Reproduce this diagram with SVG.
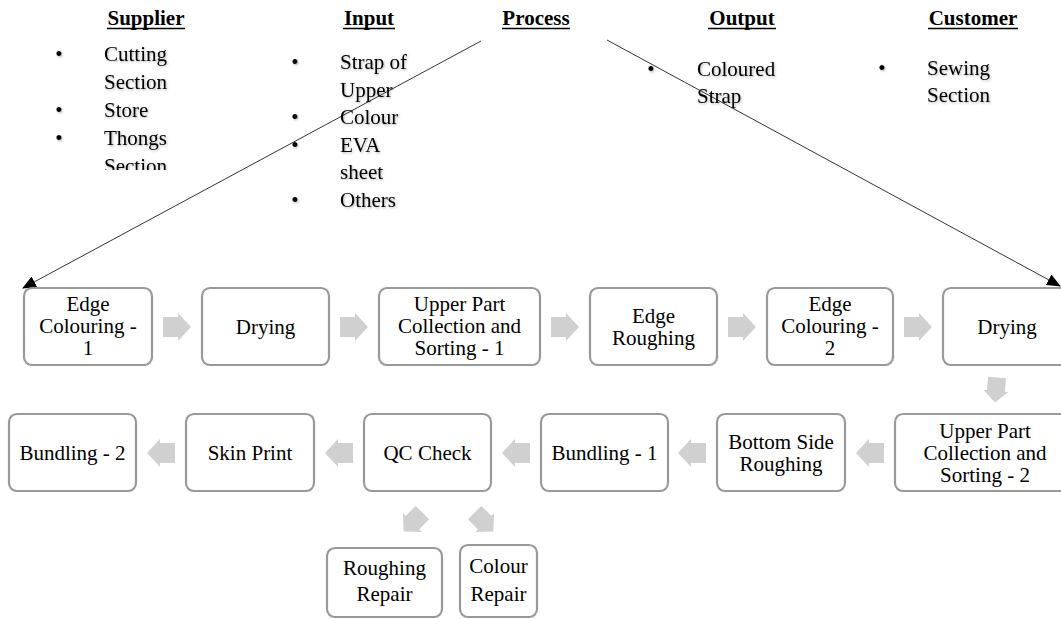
<svg xmlns="http://www.w3.org/2000/svg" width="1061" height="619" viewBox="0 0 1061 619">
<style>
.hd{font-family:"Liberation Serif","Times New Roman",serif;font-size:21px;font-weight:bold;text-anchor:middle;fill:#000}
.ls{font-family:"Liberation Serif","Times New Roman",serif;font-size:21px;fill:#000}
.bu{font-family:"Liberation Serif","Times New Roman",serif;font-size:21px;fill:#000;text-anchor:middle}
.box{fill:#fff;stroke:#999;stroke-width:2.2}
.bt{font-family:"Liberation Serif","Times New Roman",serif;font-size:21px;fill:#000;text-anchor:middle}
.ba{fill:#d0d0d0}
.dl{stroke:#000;stroke-width:0.8;fill:none}
.ul{stroke:#000;stroke-width:1.6}
</style>
<defs>
<path id="blk" d="M-14,-10 H1 V-14 L14,0 L1,14 V10 H-14 Z"/>
<marker id="ah" markerUnits="userSpaceOnUse" markerWidth="14" markerHeight="12" refX="13" refY="6" orient="auto">
<path d="M0,0 L14,6 L0,12 Z" fill="#000"/>
</marker>
<filter id="sh" x="-10%" y="-10%" width="130%" height="140%">
<feDropShadow dx="1" dy="1.2" stdDeviation="0.8" flood-color="#000" flood-opacity="0.3"/>
</filter>
<clipPath id="supclip"><rect x="0" y="0" width="300" height="170"/></clipPath>
</defs>

<g id="header-supplier">
<text class="hd" x="146" y="25">Supplier</text>
<line class="ul" x1="107" y1="28.5" x2="185" y2="28.5"/>
<g clip-path="url(#supclip)" filter="url(#sh)">
<text class="bu" x="59" y="61">•</text>
<text class="ls" x="104" y="61">Cutting</text>
<text class="ls" x="104" y="89">Section</text>
<text class="bu" x="59" y="117">•</text>
<text class="ls" x="104" y="117">Store</text>
<text class="bu" x="59" y="145">•</text>
<text class="ls" x="104" y="145">Thongs</text>
<text class="ls" x="104" y="173">Section</text>
</g>
</g>

<g id="header-input">
<text class="hd" x="369" y="25">Input</text>
<line class="ul" x1="343" y1="28.5" x2="395" y2="28.5"/>
<g filter="url(#sh)">
<text class="bu" x="295" y="69">•</text>
<text class="ls" x="340" y="69">Strap of</text>
<text class="ls" x="340" y="97">Upper</text>
<text class="bu" x="295" y="124">•</text>
<text class="ls" x="340" y="124">Colour</text>
<text class="bu" x="295" y="152">•</text>
<text class="ls" x="340" y="152">EVA</text>
<text class="ls" x="340" y="179">sheet</text>
<text class="bu" x="295" y="207">•</text>
<text class="ls" x="340" y="207">Others</text>
</g>
</g>

<g id="header-process">
<text class="hd" x="536" y="25">Process</text>
<line class="ul" x1="502" y1="28.5" x2="570" y2="28.5"/>
</g>

<g id="header-output">
<text class="hd" x="742" y="25">Output</text>
<line class="ul" x1="708" y1="28.5" x2="776" y2="28.5"/>
<g filter="url(#sh)">
<text class="bu" x="651" y="76">•</text>
<text class="ls" x="697" y="76">Coloured</text>
<text class="ls" x="697" y="103">Strap</text>
</g>
</g>

<g id="header-customer">
<text class="hd" x="973" y="25">Customer</text>
<line class="ul" x1="928" y1="28.5" x2="1018" y2="28.5"/>
<g filter="url(#sh)">
<text class="bu" x="882" y="75">•</text>
<text class="ls" x="927" y="75">Sewing</text>
<text class="ls" x="927" y="102">Section</text>
</g>
</g>

<g id="connectors">
<line class="dl" x1="481" y1="41" x2="23" y2="288" marker-end="url(#ah)"/>
<line class="dl" x1="607" y1="40" x2="1060" y2="286" marker-end="url(#ah)"/>
<use href="#blk" class="ba" transform="translate(177,327)"/>
<use href="#blk" class="ba" transform="translate(354,327)"/>
<use href="#blk" class="ba" transform="translate(565,327)"/>
<use href="#blk" class="ba" transform="translate(742,327)"/>
<use href="#blk" class="ba" transform="translate(918,327)"/>
<use href="#blk" class="ba" transform="translate(996,390) rotate(95) scale(0.9)"/>
<use href="#blk" class="ba" transform="translate(870,453) rotate(180)"/>
<use href="#blk" class="ba" transform="translate(692,453) rotate(180)"/>
<use href="#blk" class="ba" transform="translate(516,453) rotate(180)"/>
<use href="#blk" class="ba" transform="translate(339,453) rotate(180)"/>
<use href="#blk" class="ba" transform="translate(161,453) rotate(180)"/>
<use href="#blk" class="ba" transform="translate(413,522) rotate(135) scale(0.95)"/>
<use href="#blk" class="ba" transform="translate(484,522) rotate(45) scale(0.95)"/>
</g>

<g id="n1">
<rect class="box" x="24" y="288" width="128" height="77" rx="8"/>
<text class="bt" x="88" y="311">Edge</text>
<text class="bt" x="88" y="333">Colouring -</text>
<text class="bt" x="88" y="355">1</text>
</g>
<g id="n2">
<rect class="box" x="202" y="288" width="127" height="77" rx="8"/>
<text class="bt" x="265.5" y="333.5">Drying</text>
</g>
<g id="n3">
<rect class="box" x="379" y="288" width="161" height="77" rx="8"/>
<text class="bt" x="459.5" y="311">Upper Part</text>
<text class="bt" x="459.5" y="333">Collection and</text>
<text class="bt" x="459.5" y="355">Sorting - 1</text>
</g>
<g id="n4">
<rect class="box" x="590" y="288" width="127" height="77" rx="8"/>
<text class="bt" x="653.5" y="322.5">Edge</text>
<text class="bt" x="653.5" y="344.5">Roughing</text>
</g>
<g id="n5">
<rect class="box" x="767" y="288" width="126" height="77" rx="8"/>
<text class="bt" x="830" y="311">Edge</text>
<text class="bt" x="830" y="333">Colouring -</text>
<text class="bt" x="830" y="355">2</text>
</g>
<g id="n6">
<rect class="box" x="943" y="288" width="128" height="77" rx="8"/>
<text class="bt" x="1007" y="333.5">Drying</text>
</g>

<g id="n7">
<rect class="box" x="895" y="414" width="180" height="77" rx="8"/>
<text class="bt" x="985" y="437.5">Upper Part</text>
<text class="bt" x="985" y="459.5">Collection and</text>
<text class="bt" x="985" y="481.5">Sorting - 2</text>
</g>
<g id="n8">
<rect class="box" x="717" y="414" width="128" height="77" rx="8"/>
<text class="bt" x="781" y="448.5">Bottom Side</text>
<text class="bt" x="781" y="470.5">Roughing</text>
</g>
<g id="n9">
<rect class="box" x="541" y="414" width="127" height="77" rx="8"/>
<text class="bt" x="604.5" y="459.5">Bundling - 1</text>
</g>
<g id="n10">
<rect class="box" x="364" y="414" width="127" height="77" rx="8"/>
<text class="bt" x="427.5" y="459.5">QC Check</text>
</g>
<g id="n11">
<rect class="box" x="186" y="414" width="128" height="77" rx="8"/>
<text class="bt" x="250" y="459.5">Skin Print</text>
</g>
<g id="n12">
<rect class="box" x="9" y="414" width="127" height="77" rx="8"/>
<text class="bt" x="72.5" y="459.5">Bundling - 2</text>
</g>

<g id="n13">
<rect class="box" x="327" y="548" width="115" height="69" rx="8"/>
<text class="bt" x="384.5" y="575">Roughing</text>
<text class="bt" x="384.5" y="601">Repair</text>
</g>
<g id="n14">
<rect class="box" x="460" y="545" width="77" height="72" rx="8"/>
<text class="bt" x="498.5" y="573">Colour</text>
<text class="bt" x="498.5" y="601">Repair</text>
</g>
</svg>
